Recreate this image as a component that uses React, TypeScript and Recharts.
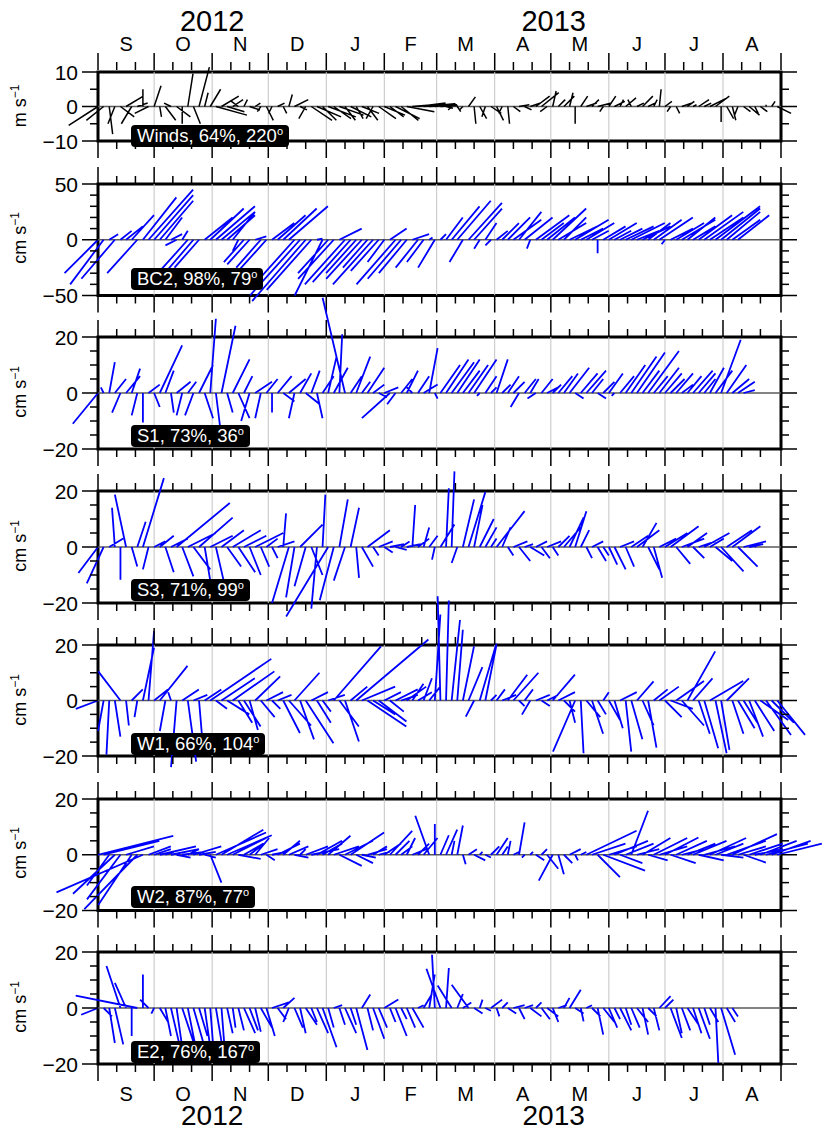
import React from "react";
import { LineChart, Line, XAxis, YAxis, ReferenceLine, ReferenceArea } from "recharts";

// day offsets from 1 Sep 2012 (one stick every 3 days)
const DAYS = [
  0, 3, 6, 9, 12, 15, 18, 21, 24, 27, 30, 33, 36, 39, 42, 45, 48, 51, 54, 57,
  60, 63, 66, 69, 72, 75, 78, 81, 84, 87, 90, 93, 96, 99, 102, 105, 108, 111, 114, 117,
  120, 123, 126, 129, 132, 135, 138, 141, 144, 147, 150, 153, 156, 159, 162, 165, 168, 171, 174, 177,
  180, 183, 186, 189, 192, 195, 198, 201, 204, 207, 210, 213, 216, 219, 222, 225, 228, 231, 234, 237,
  240, 243, 246, 249, 252, 255, 258, 261, 264, 267, 270, 273, 276, 279, 282, 285, 288, 291, 294, 297,
  300, 303, 306, 309, 312, 315, 318, 321, 324, 327, 330, 333, 336, 339, 342, 345, 348, 351, 354, 357,
  360, 363,
];

const MONTH_STARTS = [0, 30, 61, 91, 122, 153, 181, 212, 242, 273, 303, 334, 365];
const MINOR_DAYS = [10, 20, 40, 50, 71, 81, 101, 111, 132, 142, 163, 173, 191, 201, 222, 232, 252, 262, 283, 293, 313, 323, 344, 354];
const MONTH_LETTERS = ["S", "O", "N", "D", "J", "F", "M", "A", "M", "J", "J", "A"];
const YEARS = ["2012", "2013"];
const YEAR_START = 122; // 1 Jan 2013

const WIND_U = [
  -8.5, -5, 1, -2, 4, 5, -3, 3, 0, -4,
  2, 0.5, 3, -2, 4, 0, 1.5, 2, 3, 1,
  3, 9, 5, 5, 3, -2, 1, 3, 1.5, -1,
  2, -1, 2, 1, 1, 4, 2, -2, 6, 7,
  4, 8, 5, 7, 3, 6, 2, 5, 3, -2,
  5, 6, 4, 7, 5, 8, 6, 8, 9, 8,
  6, 5, 2, -1, 1, -1, 2, 0.5, 2, -1,
  3, 2, -1, 0.5, 2, 3, 2, 3, 4, 5,
  -2, 1, 2, 3, 1, 0, 2, 3, 2, 4,
  -1, 2, 3, 1, 3, -1, 2, 3, 2, 1,
  0.5, 2, -1, 1, 3, 2, 1, 3, 2, 5,
  4, 0, 2, 1, -1, 2, 3, 1, 2, 0,
  1, 4,
];
const WIND_V = [
  -5.5, -4, -8, -5, -3, 3, -5, 1, 5, -2,
  6, -3, -4, 1, -3, -5, 9.5, -5, 11.4, 4,
  5, -2.5, 3, -1.5, 2, 1.5, 2, -1, 1, -1.5,
  -4, -2, 1, -2, 3.5, 2, -1, -3.5, -4, -3,
  -4, -3, -3.5, -2.5, -4, -3, -3.5, -2, -4, -3.5,
  -3.5, -2.5, -3, -3.5, -4, -1.5, 0.5, 1, 0.8, 0.5,
  0.8, 0.3, -0.5, -1, -1.5, -1, 2.8, -5, -3.5, -3,
  -2, -4, -2, -5, -1.5, 0.5, -1, 1, 3, 4,
  -1.5, 4.5, 2, 3, 4, -5, 3, 1, 2, 1,
  -1.5, 3, 1.5, 2, 2.5, 2, 1, 3, 1, 2,
  5, 1.5, -1.5, -2, 1, 1.5, 0.5, 2, 1, 2.5,
  3, -4.5, -3.5, -4, -2.5, -1.5, -2.5, -2, -1.5, 0.5,
  1.5, -2,
];

const BC2_U = [
  -30, -30, 8, -30, 10, 15, 20, -27, 30, 40,
  35, 30, 15, 10, -10, 5, -25, -30, -22, 25,
  30, 35, 30, 25, 20, -5, -18, -20, 10, -22,
  -27, 20, 25, 30, 35, -36, -45, -48, -40, 5,
  -25, -27, -32, 20, -36, -34, -27, -32, -22, -36,
  -25, -15, 15, -35, -30, -25, 15, -20, -15, 3,
  -15, 5, 15, 25, 30, -12, 30, 25, -5, 10,
  -5, 10, 15, 20, 25, 20, 25, -3, 30, 20,
  25, 30, 25, 20, 25, 30, 20, 25, 15, 0,
  20, 25, 15, 20, 25, 30, 20, 25, 20, 25,
  30, -3, 20, 25, 30, 25, 20, 30, 35, 30,
  40, 35, 30, 25, 28,
];
const BC2_V = [
  -30, -40, 5, -35, 8, 12, 22, -30, 38, 45,
  40, 35, 20, 5, -5, 8, -28, -35, -25, 20,
  28, 30, 25, 22, 25, -10, -20, -22, 3, -25,
  -30, 15, 22, 28, 30, -40, -50, -55, -45, 1,
  -50, -30, -35, 10, -40, -38, -30, -35, -25, -40,
  -28, -20, 10, -40, -35, -30, 5, -25, -20, 2,
  -25, 5, 20, 30, 35, -20, 33, 28, -8, 15,
  -5, 8, 15, 20, 18, 25, 20, -8, 22, 15,
  20, 28, 15, 20, 12, 18, 10, 15, 8, -12,
  12, 15, 8, 10, 12, 15, 8, 12, 15, 18,
  20, -4, 10, 15, 18, 20, 12, 22, 25, 20,
  30, 28, 25, 18, 22,
];

const S1_U = [
  -9, -1, 2, 4, -3, 5, 3, -2, 0, 4,
  2, 8, 3, 1, 5, -2, 3, -3, 5, 3,
  2, 2, 5, 2, 6, 4, 3, -3, 6, -2,
  4, 0, 5, 4, 6, -2, 4, 5, 3, 2,
  4, 3, 5, 1, -8, 4, 5, 3, 6, 4,
  3, 5, -10, -3, 4, 4, -2, 4, 5, 3,
  1, 7, 8, 8, 8, 6, 7, 8, -1, 4,
  2, 4, 3, 4, 4, -3, 4, 3, -3, 4,
  4, 3, 5, 5, 7, 3, 6, 7, 4, 3,
  4, 5, -1, 5, 7, 9, 10, 6, 11, 5,
  7, 6, 5, 6, 4, 5, 7, 6, 4, 5,
  6, 7, 7, 6, 6, 4,
];
const S1_V = [
  -11, 2, 11, 5, -7, 6, 8.7, -8, -10.5, 3,
  -5, 17, 8, -7, 4, -8, 4, -8, 10, -9,
  26.5, -16, 24, -7, 12, -9, 6, -10, 4, -9,
  5, -7, 6, -3, 5, -9, 7, -4, 8, -9,
  6, 13, 9, 21, 34, 6, 13, 4, 9, 3,
  -1.5, 2, -9, -4, 5, 8, 2, 6, 3, 16,
  -2, 10, 12, 11, 12, 8, 10, 12, -1, 6,
  2, 12, 3, 6, 4, -5, 5, 5, -2, 5,
  2, 3, 6, 7, 9, -2, 7, 8, 5, -2,
  4, 7, -1, 6, 10, 13, 14.5, 8, 15, 6,
  9, 7, 5, 7, 3, 6, 8, 7, 5, 9,
  8, 19, 10, 5, 4, 1,
];

const S3_U = [
  -7, -6, 5, -1, 0, -4, 2, 3, 7.5, -2,
  4, 5, 3, 6, 19, 4, 10, 6, 12, 2,
  8, 3, 8, 5, 10, 6, 8, 4, 10, 3,
  4, 2, 6, 1, -6, -3, 8, -4, 4, -2,
  1, -15, -5, 3, -4, 3, 1, 4, 8, 2,
  5, 3, 5, 4, 3, 5, 1, 4, 2, 3,
  -1, 5, 1, 1, -2, 4, 6, 3, 5, 4,
  2, 10, 3, 2, 5, 4, 3, 5, 4, 3,
  5, 2, 4, 6, 5, 4, 3, 2, 4, 3,
  2, 3, 4, 5, 3, 6, 8, 5, 4, 3,
  6, 8, 10, 5, 8, 7, 4, 6, 9, 5,
  6, 8, 9, 10, 7, 8, 5, 1,
];
const S3_V = [
  -9.3, -13, 3, 14, -11.7, 18.7, -7, 9, 24.6, -8,
  2, 4, -9, 3, 15.7, -10.5, 5, -8, 10.5, -12,
  4, -13, 6, -7, 6, -9, 4, -10, 5, -7,
  3, -4, 2, 12, -20, -18, 8, -14, -10, -22,
  18.7, -24.8, -19, 17, -12, 14, -11, -7, 6, -3,
  2, -2, 1, -1, 2, 1, 15, 3, 7, 4,
  -4.5, 8, 21, 27, -5.7, 17, 19.6, 15, 10, 7,
  3, 12.8, 7, -3, 2, -5, 1, -3, 2, -4,
  2, -3, 4, 7, 10.5, 12.8, 6, -4, 2, -5,
  -3, -6.3, -8, 2, -7, 4, 6, 8.6, -8, -11,
  3, 5, 7.4, -6, 3, 5, -4, 2, 5, 3,
  -5, -8.7, 6, 7.4, -7, 2, 1, 1,
];

const W1_U = [
  -8, -2, -1, 2, -8, 1, 4, -1, 4, 2,
  5, 10, -2, -1, -2, 6, 3, 5, 1, 6,
  22, 4, 12, 8, 15, 5, 6, 3, 9, 5,
  6, 3, 5, 6, 8, 9, 5, 10, 6, 5,
  3, 6, 17, 7, 5, 6, 26, 12, 14, 8,
  10, 6, 5, 8, 6, 7, 4, 5, 3, 4,
  2, -1, 1, 3, 2, 4, 5, -3, 6, 4,
  2, 3, 5, 7, 9, 2, 3, -3, 5, 3,
  4, 8, 6, 4, 2, -8, 1, 5, 4, 3,
  2, 4, 3, 6, 2, 4, 6, 4, 3, 5,
  7, 6, 8, 10, 8, 10, 7, 4, 5, 12,
  4, 3, 8, 4, 6, 5, 5, 7, 10, 9,
  8, 10,
];
const W1_V = [
  -3, -11, -19.5, -13, 10.5, -9, 4, -6, 19, 25,
  4, 12.5, -11, 3, -24, 4, -22, 2, -12, 4,
  15, -3, 8, -5, 10.5, -8, -9.4, -10.6, 8.7, -6,
  3, -3, 2, -11.7, -9, 10, -14, -15.4, 3, -8,
  -4, 2, 19.5, -9.4, -14.8, 5, 22, 5, -9.4, -5,
  -7.6, 3, -4, 4, 2, 5, 6, 3, 8, 5,
  31, 37.6, 36, 29, 25.5, 19.5, 12, -5.8, 20.5, 20,
  2, 4, 2, 9.3, 10, -2, 4, -5.1, 2, -2,
  2, 9.3, 3, -4, -8, -18.4, -19, -6, -12, -5,
  3, -7, -10, 3, -18.4, -14, 6.9, -9, -17, 4,
  5, -6, -3, 7, -9, 17.7, 8, -12, -17.2, 7,
  -19, -17.8, 8, -12, -10, -8, -13, -11, -7, -12.4,
  -8, -12.4,
];

const W2_U = [
  27, 20, -8, -15, -12, 10, -12, -19, -31, 8,
  6, 13, 3, 10, 5, 8, 4, 10, 6, 4,
  4, 18, 15, 16, 12, 8, 7, 4, 5, 6,
  3, 5, 8, 6, 7, 5, 2, 8, 10, 9,
  7, 8, 9, 8, 10, 12, 6, 5, 7, 5,
  4, 6, 8, 5, 4, 3, 5, 4, 5, -5,
  0, 3, 4, 1, 2, 1, 3, 4, 1, 2,
  3, 4, 2, 1, 2, 2, -1, 1, 3, 2,
  4, -5, 2, 3, 4, 1, 2, 18, 12, 8,
  15, 10, 12, 8, 10, 6, 8, 10, 7, 12,
  10, 12, 9, 11, 8, 10, 12, 9, 11, 13,
  10, 8, 14, 16, 10, 8, 12, 10, 13, 15,
  14, 16,
];
const W2_V = [
  6.8, 5, -11, -14, -16, 3, -18, -19.5, -13.5, 3,
  2, 3, 1, 2, -1, 1, 2, 3, 1, -1,
  -10, 8, 9, 7, 6, -1.5, 4, 3, 6, 2,
  -2, 1, 4, 5, 3, -1, 2, 3, 2, 5,
  4, 6.8, 3, -4, 5, 8, -3, -1, 2, 3,
  1, 4, 8.6, 5, 3, 6, 2, 4, 6, 14,
  11, 7, 9, 5, 10.5, -3.4, 2, -2, 1, -1,
  3, 6, 3, 5, 1, 11.6, -1, 1, -2, 2,
  -5, -9.3, -7, -3, 2, -2, 1, 8.6, 4, -8,
  -5.7, 3, 5, -3, 4, 15.8, 2, 6, -2, 6,
  3, 6.2, -3, 5, 2, 4, 5, -2, 3, 6,
  4, -1, 5, 7.4, 3, -2.8, 4, 2, 5, 4,
  5, 4,
];

const E2_U = [
  -6, 3, 2, 3, -5, -4, 0, -22, 0, -3,
  -1, 3, 2, 3, 2, 4, 3, 4, 3, 2,
  1, 2, 1, 2, 1, 2, 4, 3, 2, 4,
  3, 6, 3, 4, -2, 3, 2, 4, 2, 4,
  5, 2, 3, 2, 4, 2, 4, 3, 2, 4,
  3, 5, 2, 4, 2, 3, 4, 2, 3, 2,
  -1, -5, 1, -5, 2, 3, -6, 3, 1, 2,
  4, 1, 2, 3, 4, 2, 3, 4, 2, 3,
  4, 2, 3, 2, 4, 3, 1, 2, 3, 2,
  4, 3, 2, 4, 2, 3, 4, 2, 3, 2,
  4, 3, 4, 2, 3, 4, 3, 4, 2, 3,
  1, 5, 3, 2,
];
const E2_V = [
  -2.4, -3, -12.5, -13, 15, 9, -10, 4.4, 12, 3,
  -2, -5, -10, -13, -14, -12, -15, -14, -10, -14,
  -13, -12, -13, -9, -7, -8, -9, -8, -8.5, -7,
  -10, 2, -4, 3.6, -5, -7, -9, -6, -5, -9,
  -14, -7, 1, -6, -9, -6, -15, 4.8, -8, -11,
  -7, 3, -5, -10, -4, -7, -7, 1, 5, 12,
  19, 14, 14.3, 8, 5, 2, 8.3, -2, 3, -1,
  3, -3, 2, -2, 1, -4, 1, -3, 2, -4,
  -3, -5, 1, 3.6, 6.5, -2, -4.8, 1, -3, -9.5,
  -5, -7, -4, -8, -6, -7, -5, -9.5, -3, -8,
  4.2, 3, -10.7, -9, -8, -6, -9, -11, -6, -5,
  -19.6, -16.7, -5, -3,
];

const PAGE_H = 1128;
const CHART_W = 831;
const PLOT_LEFT = 98;
const PLOT_W = 683;
const SPAN = 365;
const FONT = '"Liberation Sans", Arial, Helvetica, sans-serif';
const BLUE = "#0000ff";

type PanelCfg = {
  label: string;
  pct: string;
  deg: string;
  u: number[];
  v: number[];
  lim: number;
  minor: number[];
  unit: string;
  color: string;
  width: number;
  top: number;
  h: number;
  boxTop: number;
};

const PANELS: PanelCfg[] = [
  { label: "Winds", pct: "64%", deg: "220", u: WIND_U, v: WIND_V, lim: 10, minor: [-5, 5], unit: "m", color: "#000", width: 1.5, top: 72, h: 69, boxTop: 125 },
  { label: "BC2", pct: "98%", deg: "79", u: BC2_U, v: BC2_V, lim: 50, minor: [-40, -30, -20, -10, 10, 20, 30, 40], unit: "cm", color: BLUE, width: 1.8, top: 183.5, h: 111.5, boxTop: 268 },
  { label: "S1", pct: "73%", deg: "36", u: S1_U, v: S1_V, lim: 20, minor: [-15, -10, -5, 5, 10, 15], unit: "cm", color: BLUE, width: 1.8, top: 337, h: 112, boxTop: 425 },
  { label: "S3", pct: "71%", deg: "99", u: S3_U, v: S3_V, lim: 20, minor: [-15, -10, -5, 5, 10, 15], unit: "cm", color: BLUE, width: 1.8, top: 491, h: 112, boxTop: 579 },
  { label: "W1", pct: "66%", deg: "104", u: W1_U, v: W1_V, lim: 20, minor: [-15, -10, -5, 5, 10, 15], unit: "cm", color: BLUE, width: 1.8, top: 645, h: 111, boxTop: 733 },
  { label: "W2", pct: "87%", deg: "77", u: W2_U, v: W2_V, lim: 20, minor: [-15, -10, -5, 5, 10, 15], unit: "cm", color: BLUE, width: 1.8, top: 798.5, h: 111.5, boxTop: 886 },
  { label: "E2", pct: "76%", deg: "167", u: E2_U, v: E2_V, lim: 20, minor: [-15, -10, -5, 5, 10, 15], unit: "cm", color: BLUE, width: 1.8, top: 952, h: 112, boxTop: 1041 },
];

const X_TICKS = [...MONTH_STARTS, ...MINOR_DAYS];
const MONTH_MIDS = MONTH_STARTS.slice(0, -1).map((m, i) => (m + MONTH_STARTS[i + 1]) / 2);
const YEAR_MIDS = [YEAR_START / 2, (YEAR_START + SPAN) / 2];

const fmtY = (v: number) => (v < 0 ? "\u2212" + Math.abs(v) : String(v));

const xTick = (dir: number) => (props: any) => {
  const { x, y, payload } = props;
  const len = MONTH_STARTS.includes(payload.value) ? 17 : 8;
  return <line x1={x} x2={x} y1={y} y2={y + dir * len} stroke="#000" strokeWidth={1.5} />;
};

const rightTick = (majors: number[]) => (props: any) => {
  const { x, y, payload } = props;
  const len = majors.includes(payload.value) ? 16 : 8;
  return <line x1={x} x2={x + len} y1={y} y2={y} stroke="#000" strokeWidth={1.5} />;
};

const leftTick = (majors: number[]) => (props: any) => {
  const { x, y, payload } = props;
  const major = majors.includes(payload.value);
  return (
    <g>
      <line x1={x - (major ? 16 : 8)} x2={x} y1={y} y2={y} stroke="#000" strokeWidth={1.5} />
      {major && (
        <text x={x - 20} y={y} dy="0.36em" textAnchor="end" fontSize={21} fill="#000">
          {fmtY(payload.value)}
        </text>
      )}
    </g>
  );
};

function StickPanel({ p, index }: { p: PanelCfg; index: number }) {
  const first = index === 0;
  const last = index === PANELS.length - 1;
  const mt = first ? p.top : 40;
  const mb = last ? PAGE_H - p.top - p.h : 40;
  const nTop = first ? 4 : 1;
  const nBottom = last ? 4 : 1;
  // stick x-extent drawn at the same pixel scale as the y axis
  const k = p.h / (2 * p.lim) / (PLOT_W / SPAN);
  const data: { x: number; y: number | null }[] = [];
  DAYS.forEach((d, i) => {
    const u = p.u[i];
    const v = p.v[i];
    if (u === undefined || v === undefined) return;
    data.push({ x: d, y: 0 }, { x: d + u * k, y: v }, { x: d, y: null });
  });
  const yDomain = [-p.lim, p.lim];
  const majors = [-p.lim, 0, p.lim];
  const yTicks = [...majors, ...p.minor];
  const xc = {
    type: "number" as const,
    dataKey: "x",
    domain: [0, SPAN],
    allowDataOverflow: true,
    height: 1,
    interval: 0 as const,
    axisLine: false,
  };

  return (
    <div className="stk" style={{ position: "absolute", left: 0, top: p.top - mt }}>
      <LineChart
        width={CHART_W}
        height={mt + p.h + mb}
        data={data}
        margin={{ top: mt - nTop, bottom: mb - nBottom, left: 0, right: CHART_W - PLOT_LEFT - PLOT_W - 1 }}
      >
        <XAxis xAxisId={0} orientation="bottom" ticks={X_TICKS} tick={xTick(1)} tickLine={false} tickSize={0} tickMargin={0} {...xc} />
        <XAxis xAxisId="t" orientation="top" ticks={X_TICKS} tick={xTick(-1)} tickLine={false} tickSize={0} tickMargin={0} {...xc} />
        {first && (
          <XAxis xAxisId="ml" orientation="top" ticks={MONTH_MIDS} tickFormatter={(_: number, i: number) => MONTH_LETTERS[i]}
            tickLine={false} tickSize={0} tickMargin={20} tick={{ fill: "#000", fontSize: 20 }} {...xc} />
        )}
        {first && (
          <XAxis xAxisId="yr" orientation="top" ticks={YEAR_MIDS} tickFormatter={(_: number, i: number) => YEARS[i]}
            tickLine={false} tickSize={0} tickMargin={38} tick={{ fill: "#000", fontSize: 29 }} {...xc} />
        )}
        {first && (
          <XAxis xAxisId="dv" orientation="top" ticks={[YEAR_START]} tick={false} tickSize={49}
            tickLine={{ stroke: "#000", strokeWidth: 1 }} {...xc} />
        )}
        {last && (
          <XAxis xAxisId="ml" orientation="bottom" ticks={MONTH_MIDS} tickFormatter={(_: number, i: number) => MONTH_LETTERS[i]}
            tickLine={false} tickSize={0} tickMargin={21} tick={{ fill: "#000", fontSize: 20 }} {...xc} />
        )}
        {last && (
          <XAxis xAxisId="yr" orientation="bottom" ticks={YEAR_MIDS} tickFormatter={(_: number, i: number) => YEARS[i]}
            tickLine={false} tickSize={0} tickMargin={38} tick={{ fill: "#000", fontSize: 28 }} {...xc} />
        )}
        {last && (
          <XAxis xAxisId="dv" orientation="bottom" ticks={[YEAR_START]} tick={false} tickSize={48}
            tickLine={{ stroke: "#000", strokeWidth: 1 }} {...xc} />
        )}
        <YAxis yAxisId={0} orientation="left" width={PLOT_LEFT} type="number" domain={yDomain} allowDataOverflow
          ticks={yTicks} interval={0} tick={leftTick(majors)} tickLine={false} tickSize={0} tickMargin={0} axisLine={false} />
        <YAxis yAxisId="r" orientation="right" width={1} type="number" domain={yDomain} allowDataOverflow
          ticks={yTicks} interval={0} tick={rightTick(majors)} tickLine={false} tickSize={0} tickMargin={0} axisLine={false} />
        {MONTH_STARTS.slice(1, -1).map((m) => (
          <ReferenceLine key={m} x={m} stroke="#c4c4c4" strokeWidth={1} />
        ))}
        <ReferenceLine y={0} stroke="#5a5a5a" strokeWidth={1.5} />
        <Line
          dataKey="y"
          type="linear"
          stroke={p.color}
          strokeWidth={p.width}
          dot={false}
          activeDot={false}
          connectNulls={false}
          isAnimationActive={false}
        />
        <ReferenceArea x1={0} x2={SPAN} y1={-p.lim} y2={p.lim} fill="none" fillOpacity={0} stroke="#000" strokeWidth={3} />
      </LineChart>
    </div>
  );
}

export default function App() {
  return (
    <div style={{ position: "absolute", left: 0, top: 0, width: CHART_W, height: PAGE_H, background: "#fff", fontFamily: FONT, overflow: "hidden" }}>
      <style>{`.stk .recharts-surface{overflow:visible}.stk [clip-path]{clip-path:none !important}`}</style>
      {PANELS.map((p, i) => (
        <StickPanel key={p.label} p={p} index={i} />
      ))}
      {PANELS.map((p) => (
        <div
          key={p.label + "-unit"}
          style={{
            position: "absolute",
            left: 21,
            top: p.top + p.h / 2 - 1,
            transform: "translate(-50%, -50%) rotate(-90deg)",
            fontSize: 18,
            lineHeight: "20px",
            whiteSpace: "nowrap",
            color: "#000",
          }}
        >
          {p.unit} s<span style={{ fontSize: 12, position: "relative", top: -7 }}>{"\u2212"}1</span>
        </div>
      ))}
      {PANELS.map((p) => (
        <div
          key={p.label + "-box"}
          style={{
            position: "absolute",
            left: 131,
            top: p.boxTop,
            height: 22,
            lineHeight: "22px",
            padding: "0 6px",
            background: "#000",
            color: "#fff",
            borderRadius: 4,
            fontSize: 18.5,
            whiteSpace: "nowrap",
          }}
        >
          {p.label}, {p.pct}, {p.deg}
          <span style={{ fontSize: 11, position: "relative", top: -7 }}>o</span>
        </div>
      ))}
    </div>
  );
}
